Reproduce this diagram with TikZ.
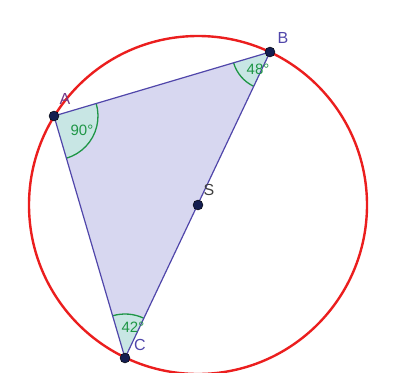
\documentclass[tikz,border=0pt]{standalone}
\usepackage{fontspec}
\setmainfont{Liberation Sans}
\usepackage{tikz}
\usetikzlibrary{angles,quotes}

\definecolor{circred}{RGB}{235,30,30}
\definecolor{sideblue}{RGB}{80,70,170}
\definecolor{trifill}{RGB}{215,215,240}
\definecolor{anggreen}{RGB}{30,150,70}
\definecolor{angfill}{RGB}{200,230,228}
\definecolor{ptnavy}{RGB}{20,30,80}

\begin{document}
\begin{tikzpicture}[x=1pt, y=-1pt, font=\fontsize{16}{19}\selectfont,
  pt/.style={circle, fill=ptnavy, draw=black, inner sep=0pt, minimum size=10pt},
  lab/.style={text=sideblue, inner sep=1pt},
  ang/.style={draw=anggreen, fill=angfill, line width=1.3pt},
  anglab/.style={text=anggreen, inner sep=0pt, font=\fontsize{15}{18}\selectfont}]
  \useasboundingbox (0,0) rectangle (396,372);
  \coordinate (A) at (54,116);
  \coordinate (B) at (270,52);
  \coordinate (C) at (125,358);
  \coordinate (S) at (198,205);
  % triangle
  \fill[trifill] (A) -- (B) -- (C) -- cycle;
  \pic[ang, angle radius=44pt] {angle = C--A--B};
  \pic[ang, angle radius=38pt] {angle = A--B--C};
  \pic[ang, angle radius=44pt] {angle = B--C--A};
  \draw[sideblue, line width=1.2pt] (A) -- (B) -- (C) -- cycle;
  % circumcircle
  \draw[circred, line width=2.4pt] (S) circle (169pt);
  % points
  \foreach \p in {A,B,C,S}
    \node[pt] (n\p) at (\p) {};
  \node[lab, text=sideblue!80!red] (lA) at (65,99) {A};
  \node[lab] (lB) at (283,38) {B};
  \node[lab] (lC) at (140,345) {C};
  \node[lab, text=black!75] (lS) at (209,190) {S};
  \node[anglab] (aA) at (82,130) {90°};
  \node[anglab] (aB) at (258,69) {48°};
  \node[anglab] (aC) at (133,327) {42°};
\end{tikzpicture}
\end{document}
